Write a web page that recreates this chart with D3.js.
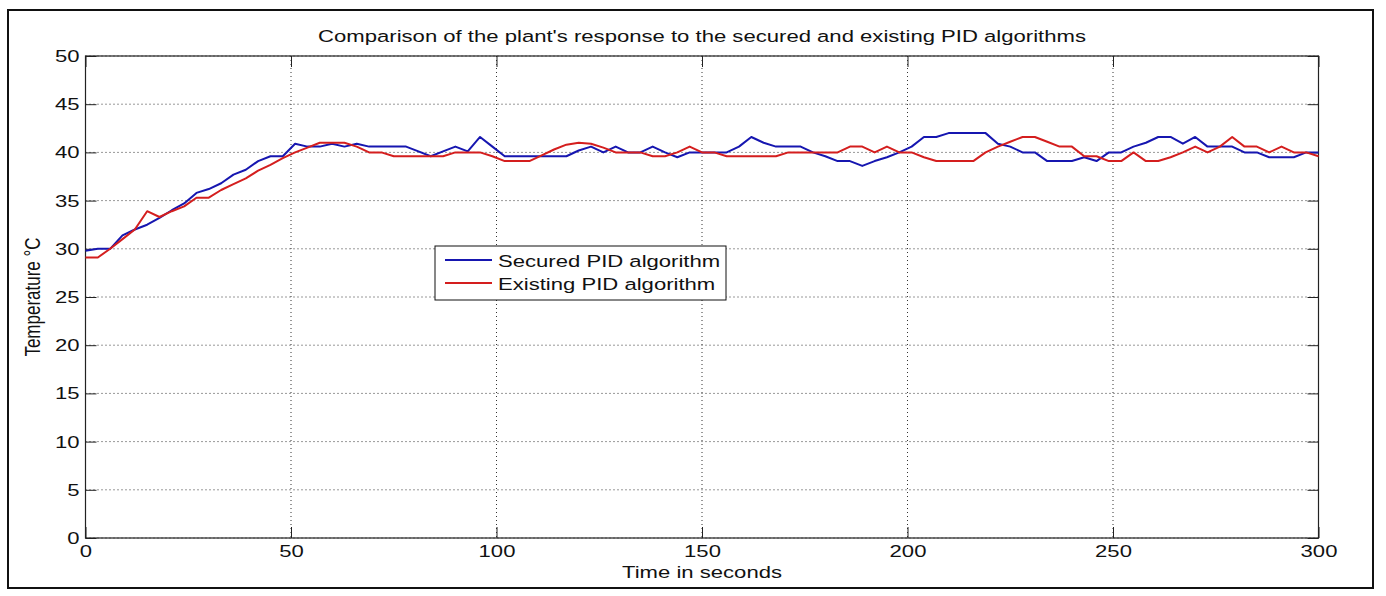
<!DOCTYPE html>
<html>
<head>
<meta charset="utf-8">
<script src="https://cdn.jsdelivr.net/npm/d3@7"></script>
<style>
  html, body { margin: 0; padding: 0; background: #fff; }
  text { font-family: "Liberation Sans", Arial, sans-serif; fill: #111; }
</style>
</head>
<body>
<div id="chart"></div>
<script>
// sample times (every 3 s) and the two recorded responses
const times = d3.range(0, 301, 3);

const securedPID = [
  29.8, 30.0, 30.0, 31.4, 32.0, 32.5, 33.2, 34.0, 34.7, 35.8,
  36.2, 36.8, 37.7, 38.2, 39.1, 39.6, 39.6, 40.9, 40.6, 40.6,
  40.9, 40.6, 40.9, 40.6, 40.6, 40.6, 40.6, 40.1, 39.6, 40.1,
  40.6, 40.1, 41.6, 40.6, 39.6, 39.6, 39.6, 39.6, 39.6, 39.6,
  40.2, 40.6, 40.0, 40.6, 40.0, 40.0, 40.6, 40.0, 39.5, 40.0,
  40.0, 40.0, 40.0, 40.6, 41.6, 41.0, 40.6, 40.6, 40.6, 40.0,
  39.6, 39.1, 39.1, 38.6, 39.1, 39.5, 40.0, 40.6, 41.6, 41.6,
  42.0, 42.0, 42.0, 42.0, 40.9, 40.6, 40.0, 40.0, 39.1, 39.1,
  39.1, 39.5, 39.1, 40.0, 40.0, 40.6, 41.0, 41.6, 41.6, 40.9,
  41.6, 40.6, 40.6, 40.6, 40.0, 40.0, 39.5, 39.5, 39.5, 40.0,
  40.0
];

const existingPID = [
  29.1, 29.1, 30.0, 31.0, 32.0, 33.9, 33.3, 33.9, 34.4, 35.3,
  35.3, 36.1, 36.7, 37.3, 38.1, 38.7, 39.4, 40.0, 40.5, 41.0,
  41.0, 41.0, 40.6, 40.0, 40.0, 39.6, 39.6, 39.6, 39.6, 39.6,
  40.0, 40.0, 40.0, 39.6, 39.1, 39.1, 39.1, 39.7, 40.3, 40.8,
  41.0, 40.9, 40.5, 40.0, 40.0, 40.0, 39.6, 39.6, 40.0, 40.6,
  40.0, 40.0, 39.6, 39.6, 39.6, 39.6, 39.6, 40.0, 40.0, 40.0,
  40.0, 40.0, 40.6, 40.6, 40.0, 40.6, 40.0, 40.0, 39.5, 39.1,
  39.1, 39.1, 39.1, 40.0, 40.6, 41.1, 41.6, 41.6, 41.1, 40.6,
  40.6, 39.6, 39.6, 39.1, 39.1, 40.0, 39.1, 39.1, 39.5, 40.0,
  40.6, 40.0, 40.6, 41.6, 40.6, 40.6, 40.0, 40.6, 40.0, 40.0,
  39.6
];

const xTicks = [0, 50, 100, 150, 200, 250, 300];
const yTicks = [0, 5, 10, 15, 20, 25, 30, 35, 40, 45, 50];
const seriesNames = ['Secured PID algorithm', 'Existing PID algorithm'];
const seriesColors = ['#1616b0', '#d41e1e'];

const width = 1386, height = 596;
const plotLeft = 85.5, plotRight = 1318.5, plotTop = 56, plotBottom = 538;
const stretch = 1.3;   // text in the picture is widened horizontally
const fontSize = 17;

const svg = d3.select('#chart')
  .append('svg')
  .attr('width', width)
  .attr('height', height);

svg.append('rect')
  .attr('width', width).attr('height', height)
  .attr('fill', '#fff');

// outer frame
svg.append('rect')
  .attr('x', 8).attr('y', 10)
  .attr('width', 1365).attr('height', 578)
  .attr('fill', 'none')
  .attr('stroke', '#111')
  .attr('stroke-width', 2);

const x = d3.scaleLinear().domain([0, 300]).range([plotLeft, plotRight]);
const y = d3.scaleLinear().domain([0, 50]).range([plotBottom, plotTop]);

// dotted grid
const grid = svg.append('g');
grid.selectAll('line.gx')
  .data(xTicks)
  .enter()
  .append('line')
    .attr('class', 'gx')
    .attr('x1', d => x(d)).attr('x2', d => x(d))
    .attr('y1', plotTop).attr('y2', plotBottom);
grid.selectAll('line.gy')
  .data(yTicks)
  .enter()
  .append('line')
    .attr('class', 'gy')
    .attr('x1', plotLeft).attr('x2', plotRight)
    .attr('y1', d => y(d)).attr('y2', d => y(d));
grid.selectAll('line')
  .attr('stroke', '#333')
  .attr('stroke-width', 1)
  .attr('stroke-dasharray', '1,3');

// inward ticks on all four sides
const tickLen = 11;
svg.append('g').attr('transform', `translate(0,${plotBottom})`)
  .call(d3.axisBottom(x).tickValues(xTicks).tickSize(-tickLen).tickFormat(''));
svg.append('g').attr('transform', `translate(0,${plotTop})`)
  .call(d3.axisTop(x).tickValues(xTicks).tickSize(-tickLen).tickFormat(''));
svg.append('g').attr('transform', `translate(${plotLeft},0)`)
  .call(d3.axisLeft(y).tickValues(yTicks).tickSize(-tickLen).tickFormat(''));
svg.append('g').attr('transform', `translate(${plotRight},0)`)
  .call(d3.axisRight(y).tickValues(yTicks).tickSize(-tickLen).tickFormat(''));
svg.selectAll('.domain').remove();
svg.selectAll('.tick line').attr('stroke', '#222');

// tick labels
const xAxis = svg.append('g').attr('transform', `translate(0,${plotBottom})`)
  .call(d3.axisBottom(x).tickValues(xTicks).tickSize(0).tickPadding(7));
xAxis.select('.domain').remove();
xAxis.selectAll('text')
  .attr('font-size', fontSize)
  .attr('font-family', '"Liberation Sans", Arial, sans-serif')
  .attr('fill', '#111')
  .attr('transform', `scale(${stretch},1)`);

const yAxis = svg.append('g').attr('transform', `translate(${plotLeft},0)`)
  .call(d3.axisLeft(y).tickValues(yTicks).tickSize(0).tickPadding(0));
yAxis.select('.domain').remove();
yAxis.selectAll('text')
  .attr('x', -6 / stretch)
  .attr('font-size', fontSize)
  .attr('font-family', '"Liberation Sans", Arial, sans-serif')
  .attr('fill', '#111')
  .attr('transform', `scale(${stretch},1)`);

// plot box
svg.append('rect')
  .attr('x', plotLeft).attr('y', plotTop)
  .attr('width', plotRight - plotLeft).attr('height', plotBottom - plotTop)
  .attr('fill', 'none')
  .attr('stroke', '#222')
  .attr('stroke-width', 1.2);

// lines
const line = d3.line()
  .x((d, i) => x(times[i]))
  .y(d => y(d));

svg.selectAll('path.series')
  .data([securedPID, existingPID])
  .enter()
  .append('path')
    .attr('class', 'series')
    .attr('d', line)
    .attr('fill', 'none')
    .attr('stroke', (d, i) => seriesColors[i])
    .attr('stroke-width', 2)
    .attr('stroke-linejoin', 'round');

// title and axis labels
const midX = (plotLeft + plotRight) / 2;
svg.append('text')
  .attr('transform', `translate(${midX},42) scale(${stretch},1)`)
  .attr('text-anchor', 'middle')
  .attr('font-size', fontSize)
  .text("Comparison of the plant's response to the secured and existing PID algorithms");

svg.append('text')
  .attr('transform', `translate(${midX},578) scale(${stretch},1)`)
  .attr('text-anchor', 'middle')
  .attr('font-size', fontSize)
  .text('Time in seconds');

svg.append('text')
  .attr('transform', `translate(40,${(plotTop + plotBottom) / 2}) scale(${stretch},1) rotate(-90)`)
  .attr('text-anchor', 'middle')
  .attr('font-size', fontSize)
  .text('Temperature °C');

// legend
const legend = svg.append('g').attr('transform', 'translate(435,246)');
legend.append('rect')
  .attr('width', 291).attr('height', 54)
  .attr('fill', '#fff')
  .attr('stroke', '#111')
  .attr('stroke-width', 1);

const item = legend.selectAll('g.item')
  .data(seriesNames)
  .enter()
  .append('g')
    .attr('class', 'item')
    .attr('transform', (d, i) => `translate(0,${14 + i * 23})`);
item.append('line')
  .attr('x1', 10).attr('x2', 57)
  .attr('y1', 0).attr('y2', 0)
  .attr('stroke', (d, i) => seriesColors[i])
  .attr('stroke-width', 2);
item.append('text')
  .attr('transform', `translate(63,7) scale(${stretch},1)`)
  .attr('font-size', fontSize)
  .text(d => d);
</script>
</body>
</html>
